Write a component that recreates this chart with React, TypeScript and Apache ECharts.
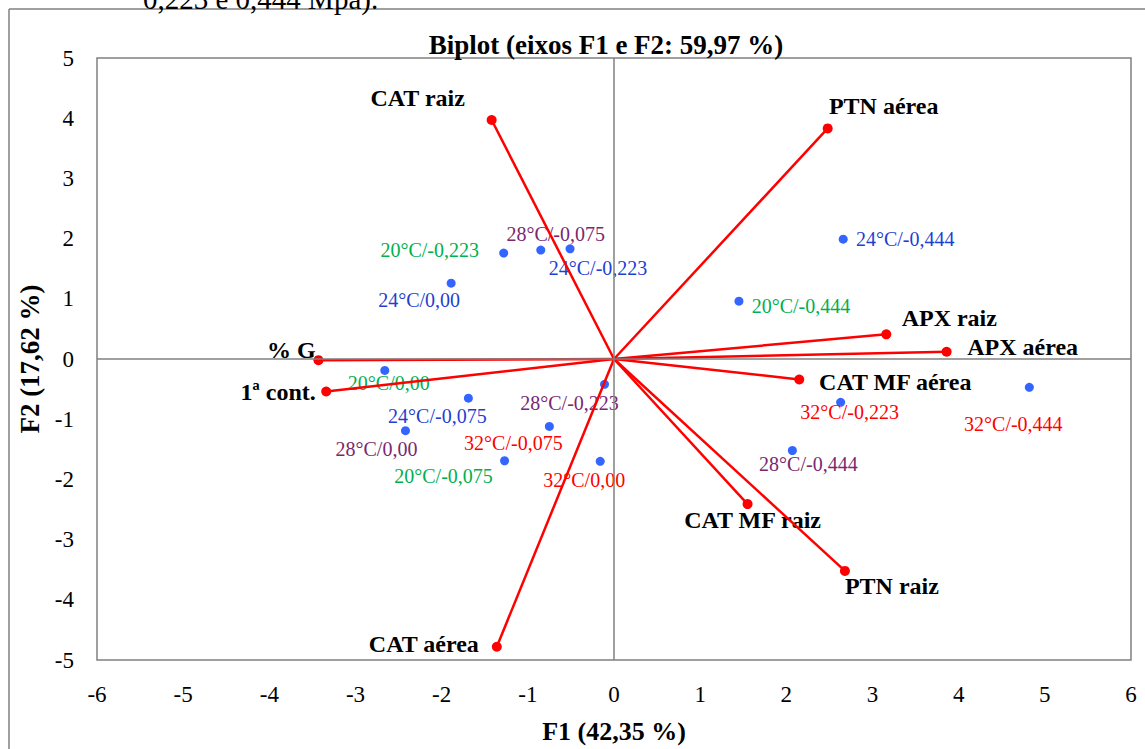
import React, { useEffect, useRef } from "react";
import * as echarts from "echarts";

// Observations (scores) on F1 / F2
const obsNames = [
  "20°C/-0,223", "28°C/-0,075", "24°C/-0,223", "24°C/0,00",
  "24°C/-0,444", "20°C/-0,444", "20°C/0,00", "24°C/-0,075",
  "28°C/0,00", "28°C/-0,223", "32°C/-0,075", "20°C/-0,075",
  "32°C/0,00", "32°C/-0,223", "32°C/-0,444", "28°C/-0,444",
];
const obsF1 = [-1.28, -0.85, -0.51, -1.89, 2.66, 1.45, -2.66, -1.69, -2.42, -0.11, -0.75, -1.27, -0.16, 2.63, 4.82, 2.07];
const obsF2 = [1.76, 1.81, 1.83, 1.26, 1.99, 0.96, -0.19, -0.65, -1.19, -0.42, -1.12, -1.69, -1.70, -0.72, -0.47, -1.52];

// Variables (loadings vectors)
const varNames = ["CAT raiz", "PTN aérea", "APX raiz", "APX aérea", "CAT MF aérea", "CAT MF raiz", "PTN raiz", "CAT aérea", "% G", "1ª cont."];
const varF1 = [-1.42, 2.48, 3.16, 3.86, 2.15, 1.55, 2.68, -1.36, -3.43, -3.34];
const varF2 = [3.97, 3.83, 0.41, 0.12, -0.34, -2.41, -3.52, -4.78, -0.02, -0.54];

const titleText = "Biplot (eixos F1 e F2: 59,97 %)";
const xName = "F1 (42,35 %)";
const yName = "F2 (17,62 %)";
const topText = "0,223 e 0,444 Mpa).";

// Styling (label placement offsets, colours)
const obsLabelOffsets = [
  [-74, -3], [15, -16], [28, 19], [-32, 17], [62, 0], [62, 5], [4, 13], [-31, 18],
  [-29, 18], [-35, 19], [-36, 17], [-61, 15], [-16, 19], [9, 10], [-16, 37], [16, 13],
];
const varLabelOffsets = [
  [-74, -22], [56, -22], [63, -16], [76, -5], [96, 3], [5, 16], [47, 15], [-73, -3], [-27, -10], [-48, 0],
];
const tempColors: Record<string, string> = {
  "20°C": "#00B050",
  "24°C": "#1F3FD0",
  "28°C": "#7A2870",
  "32°C": "#FF0000",
};

const FONT = "Liberation Serif";

export default function App() {
  const ref = useRef<HTMLDivElement>(null);

  useEffect(() => {
    if (!ref.current) return;
    const chart = echarts.init(ref.current, undefined, { renderer: "svg" });

    const obsData = obsNames.map((n, i) => ({
      name: n,
      value: [obsF1[i], obsF2[i]],
      label: {
        color: tempColors[n.split("/")[0]],
        offset: obsLabelOffsets[i],
      },
    }));

    const varData = varNames.map((n, i) => ({
      name: n,
      value: [varF1[i], varF2[i]],
      label: { offset: varLabelOffsets[i] },
    }));

    const lineData = varNames.map((n, i) => ({
      name: n,
      coords: [
        [0, 0],
        [varF1[i], varF2[i]],
      ],
    }));

    chart.setOption({
      animation: false,
      backgroundColor: "#ffffff",
      textStyle: { fontFamily: FONT },
      title: {
        text: titleText,
        left: 601,
        top: 26,
        textAlign: "center",
        textStyle: { fontFamily: FONT, fontSize: 27, fontWeight: "bold", color: "#000" },
      },
      graphic: [
        {
          type: "line",
          shape: { x1: 9, y1: 9, x2: 1145, y2: 9 },
          style: { stroke: "#808080", lineWidth: 1.5 },
          silent: true,
        },
        {
          type: "line",
          shape: { x1: 9, y1: 9, x2: 9, y2: 749 },
          style: { stroke: "#808080", lineWidth: 1.5 },
          silent: true,
        },
        {
          type: "text",
          x: 143,
          y: -1,
          style: {
            text: topText,
            fontFamily: FONT,
            fontSize: 29,
            fill: "#000",
            verticalAlign: "middle",
          },
          silent: true,
        },
      ],
      grid: {
        left: 97,
        top: 58,
        width: 1034,
        height: 609,
        show: true,
        borderColor: "#808080",
        borderWidth: 1.5,
        backgroundColor: "transparent",
      },
      xAxis: {
        type: "value",
        min: -6,
        max: 6,
        interval: 1,
        axisLine: { show: false },
        axisTick: { show: false },
        splitLine: { show: false },
        axisLabel: { fontFamily: FONT, fontSize: 23, color: "#000", margin: 23 },
        name: xName,
        nameLocation: "middle",
        nameGap: 58,
        nameTextStyle: { fontFamily: FONT, fontSize: 26, fontWeight: "bold", color: "#000" },
      },
      yAxis: {
        type: "value",
        min: -5,
        max: 5,
        interval: 1,
        axisLine: { show: false },
        axisTick: { show: false },
        splitLine: { show: false },
        axisLabel: { fontFamily: FONT, fontSize: 23, color: "#000", margin: 23 },
        name: yName,
        nameLocation: "middle",
        nameGap: 53,
        nameTextStyle: { fontFamily: FONT, fontSize: 27, fontWeight: "bold", color: "#000" },
      },
      series: [
        {
          type: "scatter",
          z: 1,
          symbolSize: 9,
          itemStyle: { color: "#3366FF", opacity: 1 },
          data: obsData,
          label: {
            show: true,
            position: "inside",
            formatter: "{b}",
            fontFamily: FONT,
            fontSize: 20,
          },
          markLine: {
            silent: true,
            symbol: "none",
            label: { show: false },
            lineStyle: { color: "#808080", width: 1.5, type: "solid" },
            data: [{ xAxis: 0 }, { yAxis: 0 }],
          },
        },
        {
          type: "scatter",
          z: 2,
          symbolSize: 10,
          itemStyle: { color: "#FF0000", opacity: 1 },
          data: varData,
          label: {
            show: true,
            position: "inside",
            formatter: "{b}",
            fontFamily: FONT,
            fontSize: 24,
            fontWeight: "bold",
            color: "#000",
          },
        },
        {
          type: "lines",
          coordinateSystem: "cartesian2d",
          z: 3,
          silent: true,
          lineStyle: { color: "#FF0000", width: 2.5, opacity: 1, curveness: 0 },
          data: lineData,
        },
      ],
    });

    return () => chart.dispose();
  }, []);

  return (
    <div
      ref={ref}
      style={{
        position: "absolute",
        left: 0,
        top: 0,
        width: 1145,
        height: 749,
        overflow: "hidden",
      }}
    />
  );
}
